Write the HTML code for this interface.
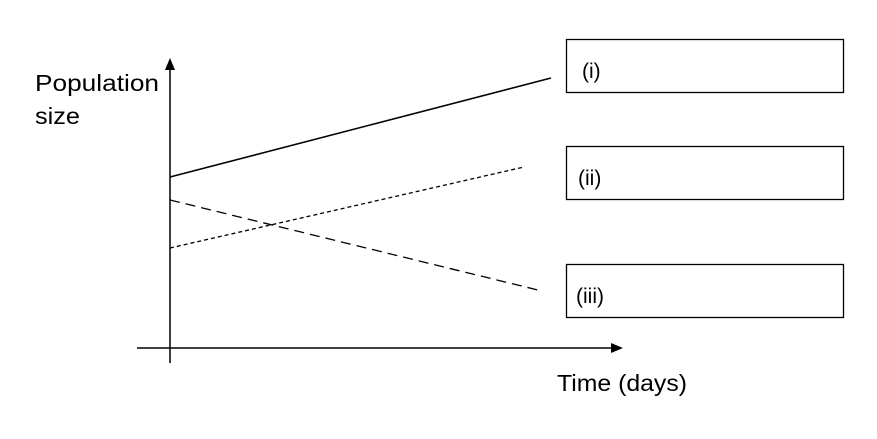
<!DOCTYPE html>
<html><head><meta charset="utf-8"><style>
html,body{margin:0;padding:0;background:#fff;}
svg{display:block;}
text{font-family:"Liberation Sans",sans-serif;fill:#000;}
</style></head><body>
<svg width="877" height="439" viewBox="0 0 877 439" xmlns="http://www.w3.org/2000/svg">
<line x1="170" y1="363" x2="170" y2="66" stroke="#000" stroke-width="1.5"/>
<polygon points="170,58 165,70 175,70" fill="#000"/>
<line x1="137" y1="348" x2="612" y2="348" stroke="#000" stroke-width="1.5"/>
<polygon points="623,348 611,343 611,353" fill="#000"/>
<line x1="170" y1="177" x2="551" y2="78" stroke="#000" stroke-width="1.5"/>
<line x1="170" y1="248" x2="524" y2="167" stroke="#000" stroke-width="1.3" stroke-dasharray="4,3"/>
<line x1="170" y1="200" x2="542" y2="291" stroke="#000" stroke-width="1.3" stroke-dasharray="10,6"/>
<rect x="566.5" y="39.5" width="277" height="53" fill="none" stroke="#000" stroke-width="1.3"/>
<rect x="566.5" y="146.5" width="277" height="53" fill="none" stroke="#000" stroke-width="1.3"/>
<rect x="566.5" y="264.5" width="277" height="53" fill="none" stroke="#000" stroke-width="1.3"/>
<text x="582" y="78" font-size="21">(i)</text>
<text x="578" y="185" font-size="21">(ii)</text>
<text x="576" y="303" font-size="21">(iii)</text>
<text x="35" y="91" font-size="23" textLength="124" lengthAdjust="spacingAndGlyphs">Population</text>
<text x="35" y="124" font-size="23" textLength="45" lengthAdjust="spacingAndGlyphs">size</text>
<text x="557" y="391" font-size="23" textLength="130" lengthAdjust="spacingAndGlyphs">Time (days)</text>
</svg>
</body></html>
